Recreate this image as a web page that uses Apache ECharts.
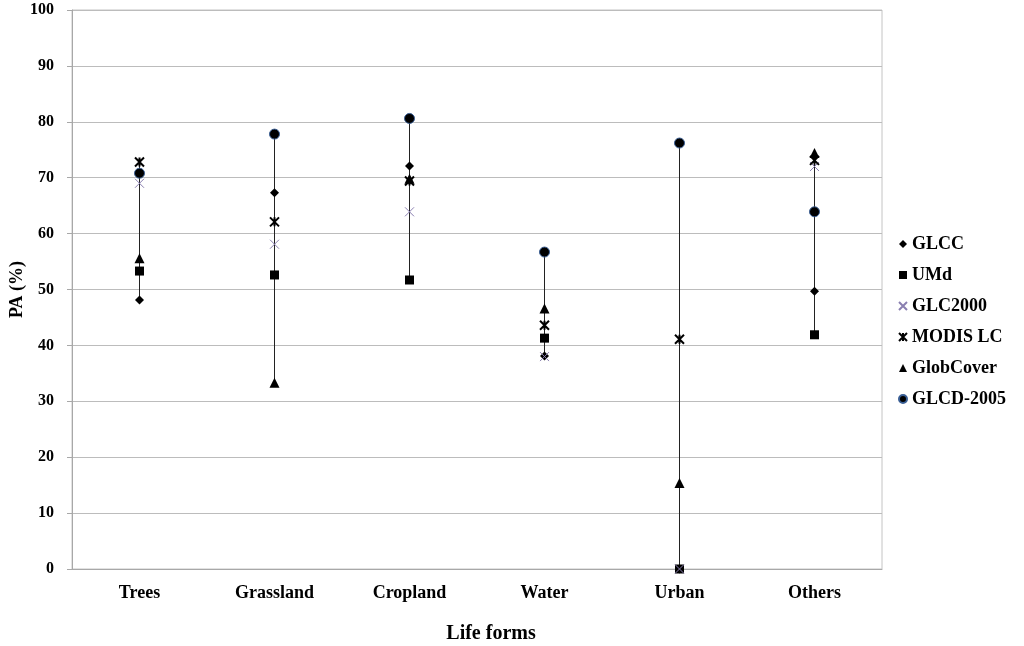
<!DOCTYPE html>
<html>
<head>
<meta charset="utf-8">
<script src="https://cdn.jsdelivr.net/npm/echarts@6/dist/echarts.min.js"></script>
<style>html,body{margin:0;padding:0;background:#fff}#c{width:1024px;height:646px}</style>
</head>
<body>
<div id="c"></div>
<script>
const categories = ['Trees', 'Grassland', 'Cropland', 'Water', 'Urban', 'Others'];
const yTicks = [0, 10, 20, 30, 40, 50, 60, 70, 80, 90, 100];
const glcc      = [48.1, 67.3, 72.1, 38.1, 0, 49.7];
const umd       = [53.3, 52.6, 51.7, 41.3, 0, 41.9];
const glc2000   = [69.0, 58.1, 63.9, 38.0, 0, 72.0];
const modis     = [72.8, 62.1, 69.4, 43.6, 41.1, 73.1];
const globcover = [55.6, 33.3, 69.8, 46.6, 15.4, 74.4];
const glcd2005  = [70.8, 77.8, 80.6, 56.7, 76.2, 63.9];

const seriesDefs = [
  {name: 'GLCC', data: glcc, symbol: 'diamond', size: 9, color: '#000', border: '#000', bw: 0},
  {name: 'UMd', data: umd, symbol: 'rect', size: 9, color: '#000', border: '#000', bw: 0},
  {name: 'GLC2000', data: glc2000, symbol: 'path://M0,0L10,10M10,0L0,10', size: 9, color: 'rgba(0,0,0,0)', border: '#8a7fb0', bw: 1},
  {name: 'MODIS LC', data: modis, symbol: 'path://M0,0L10,10M10,0L0,10M5,0L5,10', size: 9, color: 'rgba(0,0,0,0)', border: '#000', bw: 2},
  {name: 'GlobCover', data: globcover, symbol: 'triangle', size: 10, color: '#000', border: '#000', bw: 0},
  {name: 'GLCD-2005', data: glcd2005, symbol: 'circle', size: 10, color: '#000', border: '#3a5f95', bw: 1}
];

const ranges = categories.map((c, i) => {
  const vals = seriesDefs.map(s => s.data[i]);
  return [i, Math.min.apply(null, vals), Math.max.apply(null, vals)];
});

const font = '"Liberation Serif", "Times New Roman", serif';
const chart = echarts.init(document.getElementById('c'), null, {renderer: 'canvas'});
const series = [{
  type: 'custom',
  name: 'range',
  data: ranges,
  z: 1,
  silent: true,
  renderItem: function (params, api) {
    const p1 = api.coord([api.value(0), api.value(1)]);
    const p2 = api.coord([api.value(0), api.value(2)]);
    return {type: 'line', shape: {x1: p1[0], y1: p1[1], x2: p2[0], y2: p2[1]}, style: {stroke: '#222', lineWidth: 1}};
  },
  encode: {x: 0, y: [1, 2]}
}];
seriesDefs.forEach(s => {
  series.push({
    type: 'scatter', name: s.name, data: s.data, symbol: s.symbol, symbolSize: s.size, z: 3,
    itemStyle: {color: s.color, borderColor: s.border, borderWidth: s.bw, opacity: 1}
  });
});

chart.setOption({
  backgroundColor: '#fff',
  animation: false,
  grid: {left: 72, right: 142, top: 10, bottom: 77, show: true, borderColor: '#c4c4c4', borderWidth: 1,
    backgroundColor: 'transparent', containLabel: false, outerBoundsMode: 'none'},
  legend: {
    orient: 'vertical', left: 893, top: 230, itemWidth: 8, itemHeight: 8, itemGap: 13,
    data: seriesDefs.map(s => s.name),
    textStyle: {fontFamily: font, fontWeight: 'bold', fontSize: 18, color: '#000', padding: [0, 0, 0, 0], lineHeight: 18}
  },
  xAxis: {
    type: 'category', data: categories, boundaryGap: true,
    name: 'Life forms', nameLocation: 'middle', nameGap: 55, nameMoveOverlap: false,
    nameTextStyle: {fontFamily: font, fontWeight: 'bold', fontSize: 20, color: '#000', padding: [0, 0, 0, 28]},
    axisLine: {lineStyle: {color: '#a8a8a8'}},
    axisTick: {show: false},
    axisLabel: {fontFamily: font, fontWeight: 'bold', fontSize: 18, color: '#000', margin: 15}
  },
  yAxis: {
    type: 'value', min: 0, max: 100, interval: 10,
    name: 'PA (%)', nameLocation: 'middle', nameGap: 46, nameMoveOverlap: false,
    nameTextStyle: {fontFamily: font, fontWeight: 'bold', fontSize: 18, color: '#000'},
    axisLine: {show: true, lineStyle: {color: '#a8a8a8'}},
    axisTick: {show: true, length: 5, lineStyle: {color: '#a8a8a8'}},
    splitLine: {lineStyle: {color: '#bcbcbc'}},
    axisLabel: {fontFamily: font, fontWeight: 'bold', fontSize: 16, color: '#000', margin: 18,
      formatter: v => yTicks.indexOf(v) >= 0 ? String(v) : ''}
  },
  series: series
});
</script>
</body>
</html>
